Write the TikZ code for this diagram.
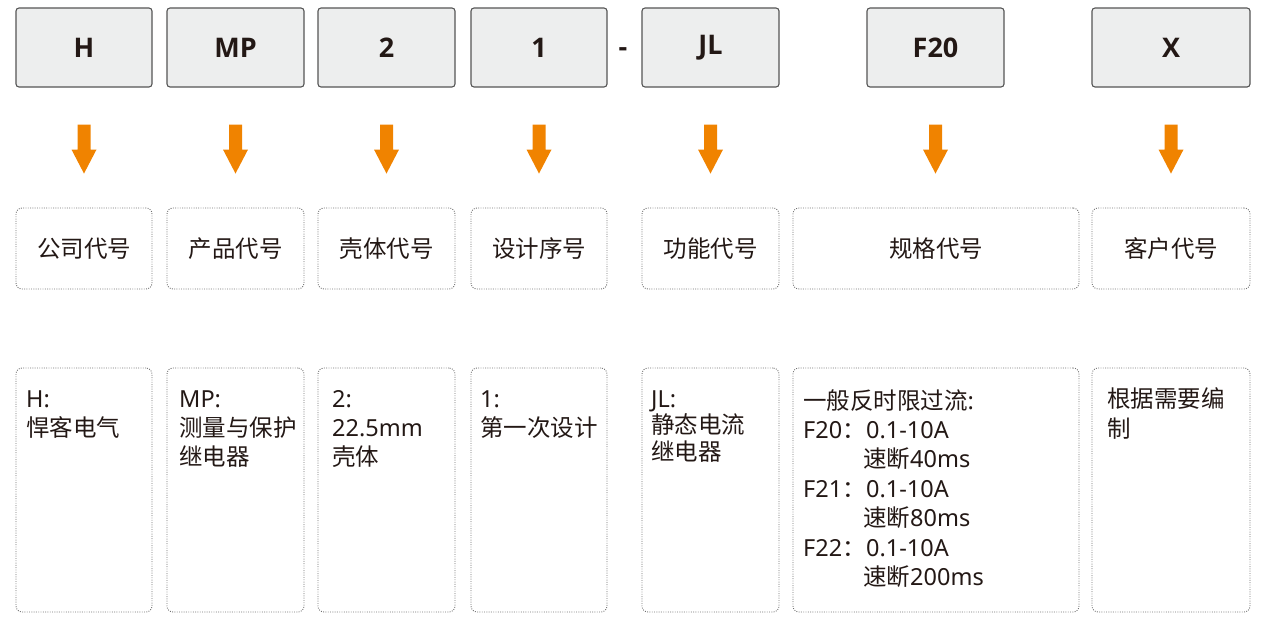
\documentclass[tikz,border=0pt]{standalone}
\usepackage{fontspec}
\setmainfont{Noto Sans}
\newfontfamily\cjk{Noto Sans CJK SC}
\newfontfamily\codefont{Open Sans}[BoldFont={Open Sans Bold}]
\usetikzlibrary{calc}
\definecolor{boxfill}{HTML}{EDEEEE}
\definecolor{boxline}{HTML}{555555}
\definecolor{arrowc}{HTML}{F08300}
\definecolor{dotline}{HTML}{707070}
\definecolor{txt}{HTML}{231815}
\begin{document}
\begin{tikzpicture}[x=1pt,y=-1pt,
  codebox/.style={draw=boxline, line width=1.1pt, fill=boxfill, rounded corners=3pt,
    minimum height=79pt, inner sep=0pt, font=\fontsize{27}{30}\selectfont\codefont\bfseries, text=txt},
  labbox/.style={draw=dotline, line width=0.9pt, dash pattern=on 0.9pt off 1.4pt,
    rounded corners=6pt, minimum height=81pt, inner sep=0pt,
    font=\fontsize{23.5}{28}\selectfont\cjk, text=txt},
  descbox/.style={draw=dotline, line width=0.9pt, dash pattern=on 0.9pt off 1.4pt,
    rounded corners=6pt, minimum height=244pt, inner sep=0pt},
  desctext/.style={anchor=base west, inner sep=0pt, font=\fontsize{23.5}{29}\selectfont, text=txt},
  arrowfill/.style={fill=arrowc}
]
\useasboundingbox (0,0) rectangle (1263,621);

% top code boxes
\node[codebox, minimum width=136pt] (t1) at (84,47.5) {H};
\node[codebox, minimum width=137pt] (t2) at (235.5,47.5) {MP};
\node[codebox, minimum width=137pt] (t3) at (386.5,47.5) {2};
\node[codebox, minimum width=136pt] (t4) at (539,47.5) {1};
\node[inner sep=0pt, font=\fontsize{27}{30}\selectfont\codefont\bfseries, text=txt] (hy) at (623,52) {-};
\node[codebox, minimum width=137pt] (t5) at (710.5,47.5) {JL};
\node[codebox, minimum width=137pt] (t6) at (935.5,47.5) {F20};
\node[codebox, minimum width=158pt] (t7) at (1171,47.5) {X};

% arrows
\foreach \n in {t1,t2,t3,t4,t5,t6,t7}{
  \fill[arrowfill] ($(\n.south)+(-6.5,37)$) -- ++(13,0) -- ++(0,25) -- ++(6,0)
    -- ++(-12.5,24) -- ++(-12.5,-24) -- ++(6,0) -- cycle;
}

% label boxes
\node[labbox, minimum width=136pt] (m1) at (84,248.5) {公司代号};
\node[labbox, minimum width=137pt] (m2) at (235.5,248.5) {产品代号};
\node[labbox, minimum width=137pt] (m3) at (386.5,248.5) {壳体代号};
\node[labbox, minimum width=136pt] (m4) at (539,248.5) {设计序号};
\node[labbox, minimum width=137pt] (m5) at (710.5,248.5) {功能代号};
\node[labbox, minimum width=286pt] (m6) at (936,248.5) {规格代号};
\node[labbox, minimum width=158pt] (m7) at (1171,248.5) {客户代号};

% description boxes
\node[descbox, minimum width=136pt] (b1) at (84,490) {};
\node[descbox, minimum width=137pt] (b2) at (235.5,490) {};
\node[descbox, minimum width=137pt] (b3) at (386.5,490) {};
\node[descbox, minimum width=136pt] (b4) at (539,490) {};
\node[descbox, minimum width=137pt] (b5) at (710.5,490) {};
\node[descbox, minimum width=286pt] (b6) at (936,490) {};
\node[descbox, minimum width=158pt] (b7) at (1171,490) {};

% description texts
\node[desctext] (d1) at (26,407) {\parbox[t]{120pt}{\raggedright H:\\{\cjk 悍客电气}}};
\node[desctext] (d2) at (179,407) {\parbox[t]{125pt}{\raggedright MP:\\{\cjk 测量与保护}\\{\cjk 继电器}}};
\node[desctext] (d3) at (332,407) {\parbox[t]{120pt}{\raggedright 2:\\22.5mm\\{\cjk 壳体}}};
\node[desctext] (d4) at (480,407) {\parbox[t]{125pt}{\raggedright 1:\\{\cjk 第一次设计}}};
\node[desctext, font=\fontsize{23.5}{26.5}\selectfont] (d5) at (651,407) {\parbox[t]{125pt}{\raggedright JL:\\{\cjk 静态电流}\\{\cjk 继电器}}};
\node[desctext, font=\fontsize{23.5}{29.4}\selectfont] (d6) at (803,409) {\parbox[t]{270pt}{\raggedright
  {\cjk 一般反时限过流}:\\
  \makebox[63pt][l]{F20{\cjk ：}}0.1-10A\\
  \hspace*{60pt}{\cjk 速断}40ms\\
  \makebox[63pt][l]{F21{\cjk ：}}0.1-10A\\
  \hspace*{60pt}{\cjk 速断}80ms\\
  \makebox[63pt][l]{F22{\cjk ：}}0.1-10A\\
  \hspace*{60pt}{\cjk 速断}200ms}};
\node[desctext, font=\fontsize{23.5}{30}\selectfont] (d7) at (1107,407) {\parbox[t]{140pt}{\raggedright {\cjk 根据需要编}\\{\cjk 制}}};
\end{tikzpicture}
\end{document}
